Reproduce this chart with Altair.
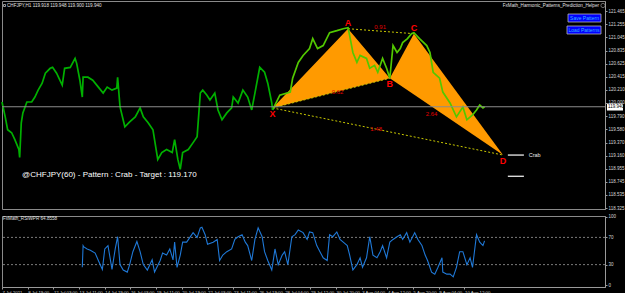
import altair as alt
import pandas as pd

# ---------------- data ----------------
# hourly bar index (0 = 7 Jul 2021) and close price
price_bar = [0, 4, 7, 12, 16, 21, 22, 24, 26, 31, 37, 41, 45, 50, 54, 60, 63, 68, 75, 78,
             85, 91, 93, 97, 100, 101, 107, 113, 120, 126, 131, 137, 143, 144, 147, 153, 159, 166, 172, 176,
             182, 188, 192, 194, 199, 205, 212, 215, 219, 222, 225, 232, 238, 243, 247, 250, 255, 259, 265, 269,
             274, 280, 286, 288, 294, 300, 306, 311, 315, 321, 327, 331, 336, 337, 346, 359, 362, 369, 375, 383,
             387, 393, 400, 408, 417, 425, 431, 433, 437, 442, 446, 454, 458, 464, 468, 474, 479, 483, 487, 492,
             496, 499, 505, 510, 513, 520, 529, 533, 537, 545, 549, 558, 566, 574, 579, 586, 591, 595, 599, 601]
price_val = [120.016, 119.779, 119.574, 119.526, 119.416, 119.258, 119.132, 119.684, 119.842, 120.016,
             120.016, 120.095, 120.205, 120.316, 120.474, 120.553, 120.568, 120.474, 120.284, 120.553,
             120.568, 120.711, 120.632, 120.363, 120.095, 120.411, 120.411, 120.363, 120.253, 120.158,
             120.253, 120.205, 120.237, 120.411, 119.937, 119.621, 119.700, 119.779, 119.921, 119.779,
             119.684, 119.574, 119.258, 119.100, 119.210, 119.258, 119.210, 119.416, 119.100, 118.942,
             119.210, 119.258, 119.368, 119.463, 120.158, 120.205, 120.126, 120.047, 120.158, 119.889,
             119.732, 119.842, 119.921, 120.095, 120.000, 120.205, 120.095, 119.889, 120.158, 120.568,
             120.490, 120.316, 120.000, 119.889, 120.126, 120.174, 120.395, 120.647, 120.758, 120.868,
             121.026, 120.868, 120.916, 121.121, 121.153, 121.184, 121.200, 121.074, 120.805, 120.647,
             120.758, 120.711, 120.553, 120.600, 120.490, 120.711, 120.553, 120.395, 120.916, 120.805,
             120.868, 120.963, 121.026, 121.105, 121.121, 121.026, 120.916, 120.805, 120.490, 120.395,
             120.174, 120.000, 119.779, 119.937, 119.732, 119.810, 119.889, 119.968, 119.921, 119.940]

# RSI/WPR indicator
rsi_bar = [100, 101, 102, 106, 110, 116, 120, 125, 128, 132, 137, 141, 144, 147, 151, 156, 159, 163, 168, 172,
           176, 181, 187, 190, 197, 200, 205, 209, 213, 215, 218, 222, 225, 230, 234, 238, 243, 247, 249, 253,
           256, 263, 268, 271, 275, 280, 286, 290, 294, 299, 303, 306, 311, 315, 319, 324, 327, 331, 336, 340,
           344, 349, 352, 356, 361, 365, 369, 375, 380, 383, 387, 392, 396, 400, 405, 408, 412, 417, 421, 425,
           430, 433, 437, 442, 446, 449, 454, 458, 462, 467, 471, 474, 479, 483, 487, 492, 496, 499, 504, 508,
           514, 518, 523, 527, 530, 535, 539, 543, 548, 549, 554, 558, 562, 566, 570, 574, 579, 583, 586, 591,
           595, 599, 601]
rsi_val = [26, 58, 56, 53, 51, 47, 36, 23, 53, 58, 23, 53, 71, 30, 22, 19, 30, 49, 64, 49,
           30, 22, 37, 19, 36, 47, 44, 53, 37, 63, 26, 44, 63, 63, 70, 77, 70, 84, 85, 74,
           60, 63, 67, 36, 44, 49, 53, 67, 71, 74, 63, 58, 36, 67, 84, 71, 49, 36, 22, 53,
           30, 44, 49, 30, 71, 74, 81, 77, 67, 78, 77, 58, 49, 40, 36, 74, 71, 78, 67, 63,
           58, 44, 22, 30, 40, 26, 40, 71, 44, 40, 49, 58, 40, 63, 67, 71, 74, 67, 77, 63,
           77, 67, 58, 44, 36, 19, 16, 26, 40, 19, 16, 16, 12, 26, 49, 49, 30, 40, 26, 74,
           63, 58, 65]

# harmonic pattern points
pat_name = ["X", "A", "B", "C", "D"]
pat_bar = [337, 431, 483, 513, 624]
pat_price = [119.921, 121.184, 120.395, 121.105, 119.170]

# Fibonacci ratio labels
ratio_text = ["0.91", "0.62", "1.48", "2.64"]
ratio_bar = [471, 418, 466, 535]
ratio_price = [121.216, 120.174, 119.589, 119.826]

# target levels
target_price = [119.170, 118.832]
target_bar = [630, 650]
last_price = 119.940

time_labels = ["7 Jul 2021", "8 Jul 19:00", "12 Jul 03:00", "13 Jul 11:00", "14 Jul 19:00",
               "16 Jul 03:00", "19 Jul 11:00", "20 Jul 19:00", "22 Jul 03:00", "23 Jul 11:00",
               "26 Jul 19:00", "28 Jul 04:00", "29 Jul 12:00", "30 Jul 20:00", "3 Aug 04:00",
               "4 Aug 12:00", "5 Aug 20:00", "9 Aug 04:00", "10 Aug 12:00"]
time_ticks = [i * 32 for i in range(len(time_labels))]

price_ticks = [121.465, 121.255, 121.045, 120.835, 120.625, 120.415, 120.210, 120.000,
               119.790, 119.580, 119.370, 119.160, 118.955, 118.745, 118.535, 118.325]
rsi_ticks = [0, 30, 70, 100]

# ---------------- styling ----------------
W = 603
FONT = "Liberation Sans"
xscale = alt.Scale(domain=[0, 751], nice=False, zero=False)
yscale = alt.Scale(domain=[118.310, 121.626], nice=False, zero=False)
rscale = alt.Scale(domain=[-2.9, 101.45], nice=False, zero=False)

P = {n: (b, p) for n, b, p in zip(pat_name, pat_bar, pat_price)}


def lerp(b, a, c):
    (b0, p0), (b1, p1) = a, c
    return p0 + (b - b0) * (p1 - p0) / (b1 - b0)


tri = pd.DataFrame({
    "tri": ["XAB"] * 3 + ["BCD"] * 3,
    "bar": [P["X"][0], P["A"][0], P["B"][0], P["B"][0], P["C"][0], P["D"][0]],
    "price": [P["X"][1], P["A"][1], P["B"][1], P["B"][1], P["C"][1], P["D"][1]],
    "bot": [P["X"][1], lerp(P["A"][0], P["X"], P["B"]), P["B"][1],
            P["B"][1], lerp(P["C"][0], P["B"], P["D"]), P["D"][1]],
})

segs = [("XB", "X", "B"), ("AC", "A", "C"), ("XD", "X", "D")]
seg_df = pd.DataFrame([
    {"seg": s, "o": i, "bar": P[n][0], "price": P[n][1]}
    for s, a, c in segs for i, n in enumerate([a, c])
])

price_df = pd.DataFrame({"bar": price_bar, "price": price_val})
price_df["part"] = ["pre" if b <= pat_bar[0] else "post" for b in price_bar]
junction = price_df[price_df["bar"] == pat_bar[0]].copy()
junction["part"] = "post"
price_df = pd.concat([price_df, junction]).sort_values(["part", "bar"])

pat_df = pd.DataFrame({"name": pat_name, "bar": pat_bar, "price": pat_price})
ratio_df = pd.DataFrame({"t": ratio_text, "bar": ratio_bar, "price": ratio_price})
tgt_df = pd.DataFrame({"price": target_price, "b1": target_bar[0], "b2": target_bar[1]})
rsi_df = pd.DataFrame({"bar": rsi_bar, "v": rsi_val})

AX = dict(grid=False, labelColor="#d8d8d8", tickSize=2, tickColor="#9a9a9a",
          domainColor="#9a9a9a", labelPadding=1, labelFont=FONT, labelOverlap=False,
          labelBound=False, labelFlush=False)

X = alt.X("bar:Q", scale=xscale, axis=None)
Yp = alt.Y("price:Q", scale=yscale, title=None,
           axis=alt.Axis(orient="right", values=price_ticks, format=".3f",
                         labelFontSize=4.5, **AX))
Y = Yp

areas = alt.Chart(tri).mark_area(color="#ff9a00", opacity=1, interpolate="linear").encode(
    x=X, y=Yp, y2="bot:Q", detail="tri:N")

dotted = alt.Chart(seg_df).mark_line(color="#c8c800", strokeDash=[2, 2], strokeWidth=1).encode(
    x=X, y=Y, detail="seg:N", order="o:Q")

price_line = alt.Chart(price_df).mark_line(strokeWidth=1.7).encode(
    x=X, y=Y, detail="part:N",
    color=alt.Color("part:N", scale=alt.Scale(domain=["pre", "post"],
                                              range=["#00b000", "#52c800"]), legend=None),
)

cur_rule = alt.Chart(pd.DataFrame({"price": [last_price]})).mark_rule(
    color="#8c8c8c", strokeWidth=1).encode(y=Y)

cur_box = alt.Chart(pd.DataFrame({"price": [last_price + 0.05], "lo": [last_price - 0.06]})).mark_rect(
    color="#ffffff").encode(
    x=alt.value(W + 2), x2=alt.value(W + 18), y=Y, y2="lo:Q")
cur_txt = alt.Chart(pd.DataFrame({"price": [last_price], "t": ["119.940"]})).mark_text(
    align="left", fontSize=4.5, color="#000000", font=FONT).encode(
    x=alt.value(W + 3), y=Y, text="t:N")

letters_up = alt.Chart(pat_df[pat_df["name"].isin(["A", "C"])]).mark_text(
    color="#ff0000", fontSize=9, fontWeight="bold", font=FONT, dy=-6).encode(
    x=X, y=Y, text="name:N")
letters_dn = alt.Chart(pat_df[pat_df["name"].isin(["X", "B", "D"])]).mark_text(
    color="#ff0000", fontSize=9, fontWeight="bold", font=FONT, dy=6).encode(
    x=X, y=Y, text="name:N")

ratios = alt.Chart(ratio_df).mark_text(color="#e00000", fontSize=6, font=FONT).encode(
    x=X, y=Y, text="t:N")

tgt_lines = alt.Chart(tgt_df).mark_rule(color="#ffffff", strokeWidth=1.2).encode(
    x=alt.X("b1:Q", scale=xscale, axis=None), x2="b2:Q", y=Y)
crab = alt.Chart(pd.DataFrame({"bar": [656], "price": [target_price[0]], "t": ["Crab"]})).mark_text(
    align="left", color="#e8e8e8", fontSize=5.5, font=FONT).encode(
    x=X, y=Y, text="t:N")

info = alt.Chart(pd.DataFrame({"bar": [25], "price": [118.85],
                               "t": ["@CHFJPY(60) - Pattern : Crab - Target : 119.170"]})).mark_text(
    align="left", color="#ffffff", fontSize=8.0, font=FONT).encode(
    x=X, y=Y, text="t:N")

header = alt.Chart(pd.DataFrame({"t": ["CHFJPY,H1  119.918 119.948 119.900 119.940"]})).mark_text(
    align="left", color="#e0e0e0", fontSize=4.6, font=FONT).encode(
    x=alt.value(5), y=alt.value(4.5), text="t:N")
header_box = alt.Chart(pd.DataFrame({"a": [1]})).mark_rect(
    fill="#000000", stroke="#c0c0c0", strokeWidth=0.8).encode(
    x=alt.value(1.5), x2=alt.value(3.5), y=alt.value(3.5), y2=alt.value(5.5))
helper = alt.Chart(pd.DataFrame({"t": ["FxMath_Harmonic_Patterns_Prediction_Helper"]})).mark_text(
    align="right", color="#e0e0e0", fontSize=4.6, font=FONT).encode(
    x=alt.value(W - 6), y=alt.value(4.5), text="t:N")
smiley = alt.Chart(pd.DataFrame({"a": [1]})).mark_point(
    shape="circle", size=18, color="#bbbbbb", filled=False, strokeWidth=0.8).encode(
    x=alt.value(W - 2), y=alt.value(4.5))

btn_df = pd.DataFrame({"t": ["Save Pattern", "Load Patterns"],
                       "x1": [W - 37, W - 38], "x2": [W - 4, W - 4], "y1": [13, 25], "y2": [21, 33]})
buttons = alt.layer(*[
    alt.Chart(pd.DataFrame({"t": [r.t]})).mark_rect(
        fill="#0000ff", stroke="#b4b4b4", strokeWidth=0.8).encode(
        x=alt.value(r.x1), x2=alt.value(r.x2), y=alt.value(r.y1), y2=alt.value(r.y2))
    for r in btn_df.itertuples()
] + [
    alt.Chart(pd.DataFrame({"t": [r.t]})).mark_text(
        color="#39b4ff", fontSize=5, font=FONT).encode(
        x=alt.value((r.x1 + r.x2) / 2), y=alt.value((r.y1 + r.y2) / 2 + 0.3), text="t:N")
    for r in btn_df.itertuples()
])

top = alt.layer(areas, dotted, price_line, cur_rule, cur_box, cur_txt, letters_up, letters_dn,
                ratios, tgt_lines, crab, info, header_box, header, helper, smiley,
                buttons).properties(width=W, height=208)

# ---------------- indicator ----------------
label_expr = "[" + ",".join("'%s'" % s for s in time_labels) + "][round(datum.value/32)]"
Xb = alt.X("bar:Q", scale=xscale, title=None,
           axis=alt.Axis(values=time_ticks, labelExpr=label_expr, labelAlign="left",
                         labelBaseline="top", labelFontSize=4.3, **AX))
Yr = alt.Y("v:Q", scale=rscale, title=None,
           axis=alt.Axis(orient="right", values=rsi_ticks, labelFontSize=4.5, **AX))

levels = alt.Chart(pd.DataFrame({"v": [30, 70]})).mark_rule(
    color="#9a9a9a", strokeDash=[2, 2], strokeWidth=0.8).encode(y=Yr)
rsi_line = alt.Chart(rsi_df).mark_line(color="#1f78d6", strokeWidth=1.1).encode(x=Xb, y=Yr)
rsi_lbl = alt.Chart(pd.DataFrame({"t": ["FxMath_RSIWPR 64.8558"]})).mark_text(
    align="left", color="#e0e0e0", fontSize=4.6, font=FONT).encode(
    x=alt.value(1), y=alt.value(3), text="t:N")

bottom = alt.layer(levels, rsi_line, rsi_lbl).properties(width=W, height=71)

chart = alt.vconcat(top, bottom, spacing=2).properties(
    background="#000000",
    padding={"left": -2, "top": 0, "right": 0, "bottom": 0},
).configure_view(stroke="#8a8a8a", strokeWidth=1).configure_concat(
    spacing=2).configure_axis(labelOverlap=False, labelBound=False, labelFlush=False)

chart.save("out.html", embed_options={"renderer": "svg", "actions": False})
